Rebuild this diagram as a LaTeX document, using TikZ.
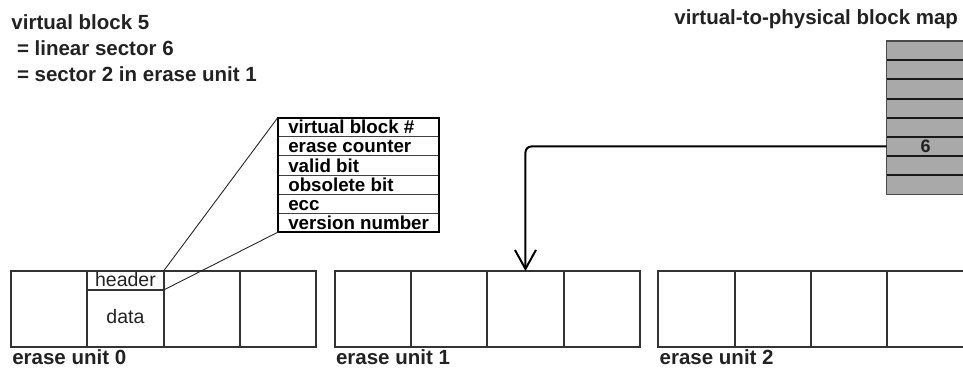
\documentclass[tikz,border=0pt]{standalone}
\usepackage{fontspec}
\setmainfont{Liberation Sans}
\usetikzlibrary{arrows.meta,calc}
\definecolor{ink}{HTML}{222222}
\definecolor{edge}{HTML}{333333}
\definecolor{mapfill}{HTML}{A9A9A9}
\definecolor{mapedge}{HTML}{4A4A4A}

\begin{document}
\begin{tikzpicture}[x=1pt,y=-1pt,
  lbl/.style={inner sep=0pt,outer sep=0pt,anchor=base west,text=ink,
    font=\fontsize{20.5}{24}\bfseries\selectfont},
  cell/.style={draw=edge,line width=2pt,minimum width=76.3pt,minimum height=76pt,
    inner sep=0pt,outer sep=0pt,anchor=north west},
  hdrbox/.style={draw=edge,line width=1.3pt,minimum width=76.3pt,minimum height=19pt,
    inner sep=0pt,outer sep=0pt,anchor=north west},
  plain/.style={inner sep=0pt,outer sep=0pt,text=ink,
    font=\fontsize{19.5}{22}\selectfont},
  field/.style={draw=black!75,line width=1pt,minimum width=161.6pt,minimum height=19.1pt,
    inner sep=0pt,outer sep=0pt,anchor=north west},
  fieldtxt/.style={inner sep=0pt,outer sep=0pt,anchor=base west,text=black,
    font=\fontsize{18.75}{20}\bfseries\selectfont},
  maprow/.style={fill=mapfill,minimum width=78pt,minimum height=19.17pt,
    inner sep=0pt,outer sep=0pt,anchor=north west},
]
\useasboundingbox (0,0) rectangle (963,368);

% caption lines at the top left
\node[lbl] (cap1) at (11.5,29.5) {virtual block 5};
\node[lbl] (cap2) at (17,55.5) {= linear sector 6};
\node[lbl] (cap3) at (17,81) {= sector 2 in erase unit 1};

% erase units, four sectors each
\foreach \u in {0,1,2} {
  \foreach \c in {0,...,3}
    \node[cell] (u\u c\c) at ({11+323.7*\u+76.3*\c},271) {};
  \node[lbl] (name\u) at ([xshift=1.3pt,yshift=-17.5pt]u\u c0.south west) {erase unit \u};
}

% header / data split of sector 1 in erase unit 0
\node[hdrbox] (hdr) at (u0c1.north west) {};
\node[plain,anchor=base] (hdrtxt) at ([yshift=3.8pt]hdr.south) {header};
\node[plain,anchor=base] (datatxt) at ($(hdr.south)!0.5!(u0c1.south)+(0,5)$) {data};

% header layout
\foreach \t [count=\i] in {virtual block \#,erase counter,valid bit,obsolete bit,ecc,version number} {
  \node[field] (f\i) at (277.7,{117.7+19.1*(\i-1)}) {};
  \node[fieldtxt] at ([xshift=10.6pt,yshift=3pt]f\i.south west) {\t};
}
\draw[black,line width=2pt] (f1.north west) rectangle (f6.south east);
\draw[black!85,line width=0.9pt] (hdr.north east) -- (f1.north west);
\draw[black!85,line width=0.9pt] (hdr.south east) -- (f6.south west);

% virtual-to-physical block map
\node[lbl,anchor=base east] (maptitle) at (958,24) {virtual-to-physical block map};
\foreach \r in {0,...,7}
  \node[maprow] (m\r) at (886.7,{41+19.17*\r}) {};
\foreach \r in {1,...,7}
  \draw[black!90,line width=2pt] (m\r.north west) -- (m\r.north east);
\draw[mapedge,line width=1.3pt] (m0.north west) rectangle (m7.south east);
\node[inner sep=0pt,anchor=base,text=ink,font=\fontsize{18}{20}\bfseries\selectfont]
  (six) at ([yshift=3.5pt]m5.south) {6};

% map entry 6 points at sector 2 of erase unit 1
\draw[black,line width=2pt,rounded corners=6pt,
  -{Straight Barb[length=19pt,width=21pt,line width=2pt]}]
  (m5.west) -| (u1c2.north);
\end{tikzpicture}
\end{document}
